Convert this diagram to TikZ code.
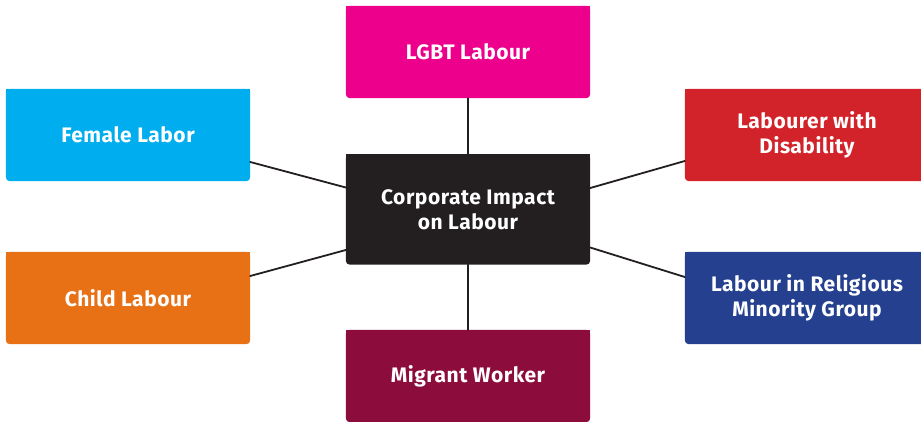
\documentclass[tikz,border=0pt]{standalone}
\usepackage{fontspec}
\setmainfont{Fira Sans}[LetterSpace=2.5]
\usetikzlibrary{backgrounds}
\definecolor{impblack}{HTML}{231F20}
\definecolor{lgbtpink}{HTML}{EC008C}
\definecolor{femblue}{HTML}{00AEEF}
\definecolor{disred}{HTML}{D2232A}
\definecolor{childorange}{HTML}{E87015}
\definecolor{relblue}{HTML}{25408F}
\definecolor{migwine}{HTML}{8C0D3C}
\tikzset{
  tab/.style={minimum width=244pt,minimum height=92pt,inner sep=0pt,align=center,
    text=white,font=\fontsize{21}{25}\selectfont\bfseries},
  link/.style={draw=impblack,line width=1.8pt}
}

\begin{document}
\begin{tikzpicture}[line cap=round,line join=round,x=1pt,y=-1pt]
\useasboundingbox (0,0) rectangle (921,421);
\clip (0,0) rectangle (921,421);
\node[tab,minimum height=110pt] (ctr) at (468,209.5) {Corporate Impact\\on Labour};
\node[tab] (lgbt) at (468,52) {LGBT Labour};
\node[tab] (mig) at (468,376) {Migrant Worker};
\node[tab] (fem) at (128,135) {Female Labor};
\node[tab] (chi) at (128,298) {Child Labour};
\node[tab] (dis) at (807,135) {Labourer with\\Disability};
\node[tab] (rel) at (807,298) {Labour in Religious\\Minority Group};
\begin{scope}[on background layer]
\foreach \n/\c in {ctr/impblack,lgbt/lgbtpink,mig/migwine,fem/femblue,chi/childorange,dis/disred,rel/relblue}{
  \fill[\c,rounded corners=4pt] (\n.north west) rectangle (\n.south east);
  \fill[\c] (\n.north west) rectangle (\n.east);
}
\end{scope}
\draw[link] (lgbt.south) -- (ctr.north);
\draw[link] (ctr.south) -- (mig.north);
\draw[link] ([yshift=-27pt]fem.east) -- ([yshift=22pt]ctr.west);
\draw[link] ([yshift=22pt]chi.east) -- ([yshift=-40.5pt]ctr.west);
\draw[link] ([yshift=-26pt]dis.west) -- ([yshift=21.5pt]ctr.east);
\draw[link] ([yshift=21pt]rel.west) -- ([yshift=-38pt]ctr.east);
\end{tikzpicture}
\end{document}
